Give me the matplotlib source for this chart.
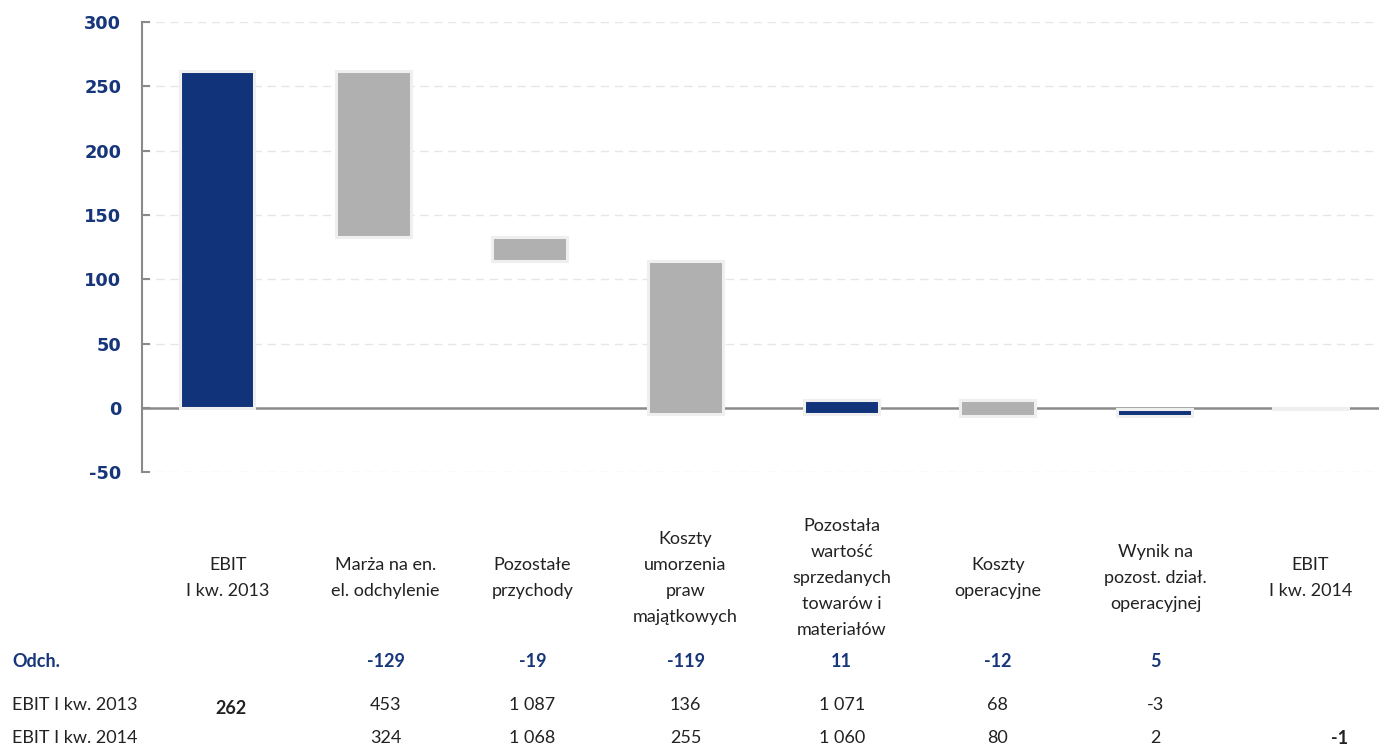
import matplotlib
matplotlib.use("Agg")
import matplotlib.pyplot as plt
import matplotlib.transforms as mtransforms
import numpy as np

plt.rcParams["axes.unicode_minus"] = False

# --- data -------------------------------------------------------------
categories = [
    "EBIT\nI kw. 2013",
    "Marża na en.\nel. odchylenie",
    "Pozostałe\nprzychody",
    "Koszty\numorzenia\npraw\nmajątkowych",
    "Pozostała\nwartość\nsprzedanych\ntowarów i\nmateriałów",
    "Koszty\noperacyjne",
    "Wynik na\npozost. dział.\noperacyjnej",
    "EBIT\nI kw. 2014",
]
ebit_start = 262
deltas = [-129, -19, -119, 11, -12, 5]
ebit_end = -1

row_labels = ["Odch.", "EBIT I kw. 2013", "EBIT I kw. 2014"]
odch_row = ["", "-129", "-19", "-119", "11", "-12", "5", ""]
row_2013 = ["262", "453", "1 087", "136", "1 071", "68", "-3", ""]
row_2014 = ["", "324", "1 068", "255", "1 060", "80", "2", "-1"]

yticks = [-50, 0, 50, 100, 150, 200, 250, 300]

# --- styles -----------------------------------------------------------
NAVY = "#10337a"
GREY = "#b0b0b0"
SHADOW = "#efefef"
TICK_BLUE = "#17357a"
TEXT = "#222222"
FONT = "Lato"
FS = 13

# --- waterfall geometry ------------------------------------------------
cum = np.cumsum([ebit_start] + deltas)
bottoms, heights, faces = [0], [ebit_start], [NAVY]
for prev, d in zip(cum[:-1], deltas):
    bottoms.append(prev)
    heights.append(d)
    faces.append(NAVY if d > 0 else GREY)
bottoms.append(0)
heights.append(ebit_end)
faces.append("#f7f7f7")

x = np.arange(len(categories))

fig = plt.figure(figsize=(13.79, 7.47), dpi=100)
ax = fig.add_axes([0.103, 0.368, 0.897, 0.6025])

ax.axhline(0, color="#8a8a8a", lw=1.8, zorder=1)
ax.bar(x, heights, bottom=bottoms, width=0.48, color=faces,
       edgecolor=SHADOW, linewidth=2.2, zorder=3)

ax.set_xlim(-0.48, 7.44)
ax.set_ylim(-50, 300)
ax.set_yticks(yticks)
for t in yticks:
    if t != 0:
        ax.axhline(t, color="#e6e6e6", lw=1.0, ls=(0, (6, 4)), zorder=0)

ax.set_xticks([])
for side in ("top", "right", "bottom"):
    ax.spines[side].set_visible(False)
ax.spines["left"].set_color("#8a8a8a")
ax.spines["left"].set_linewidth(1.5)
ax.tick_params(axis="y", direction="in", length=6, width=1.5, color="#8a8a8a",
               labelsize=12.8, labelcolor=TICK_BLUE, pad=15)
for lab in ax.get_yticklabels():
    lab.set_fontweight("bold")

# --- category labels and table below ------------------------------------
trans = mtransforms.blended_transform_factory(ax.transData, fig.transFigure)
col_shift = [0.07, 0.08, 0.02, 0.0, 0.0, 0.0, 0.01, 0.0]

for xi, name in zip(x, categories):
    ax.text(xi + col_shift[xi], 0.2262, name, transform=trans, ha="center",
            va="center", fontsize=FS, color=TEXT, family=FONT,
            linespacing=1.76, multialignment="center")

row_y = [0.1138, 0.0562, 0.012]
fig.text(0.0087, row_y[0], row_labels[0], ha="left", va="center",
         fontsize=FS, color=TICK_BLUE, fontweight="bold", family=FONT)
fig.text(0.0087, row_y[1], row_labels[1], ha="left", va="center",
         fontsize=FS, color=TEXT, family=FONT)
fig.text(0.0087, row_y[2], row_labels[2], ha="left", va="center",
         fontsize=FS, color=TEXT, family=FONT)

for xi in x:
    ax.text(xi + col_shift[xi], row_y[0], odch_row[xi], transform=trans,
            ha="center", va="center", fontsize=FS, color=TICK_BLUE,
            fontweight="bold", family=FONT)
    bold = xi == 0
    ax.text(xi + col_shift[xi] + (0.02 if bold else 0), row_y[1] - (0.004 if bold else 0),
            row_2013[xi], transform=trans, ha="center", va="center",
            fontsize=FS, color=TEXT, family=FONT,
            fontweight="bold" if bold else "normal")
    last = xi == len(x) - 1
    ax.text(xi + col_shift[xi] + (0.19 if last else 0), row_y[2], row_2014[xi],
            transform=trans, ha="center", va="center", fontsize=FS,
            color=TEXT, family=FONT, fontweight="bold" if last else "normal")

fig.savefig("out.png", dpi=100)
